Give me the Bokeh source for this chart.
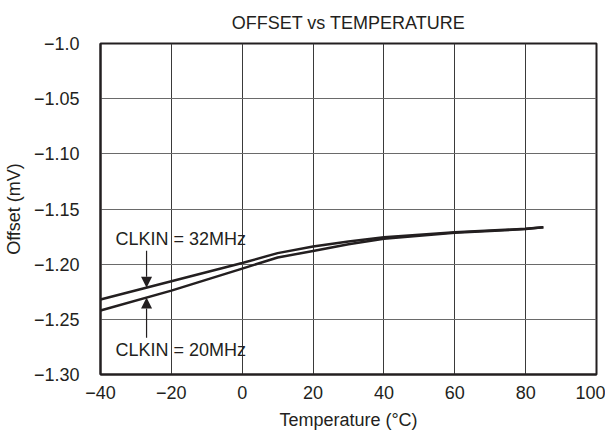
import numpy as np
from bokeh.plotting import figure
from bokeh.models import FixedTicker, Arrow, NormalHead, Label
from bokeh.embed import file_html
from bokeh.resources import INLINE

# data
temps = [-40, -20, 0, 10, 20, 30, 40, 60, 80, 85]
offset_32mhz = [-1.232, -1.2155, -1.199, -1.190, -1.184, -1.1795, -1.1755, -1.171, -1.168, -1.1665]
offset_20mhz = [-1.242, -1.224, -1.204, -1.194, -1.188, -1.182, -1.177, -1.1715, -1.1682, -1.1665]

x_ticks = [-40, -20, 0, 20, 40, 60, 80, 100]
y_ticks = [-1.30, -1.25, -1.20, -1.15, -1.10, -1.05, -1.0]
y_tick_labels = {-1.30: "\u22121.30", -1.25: "\u22121.25", -1.20: "\u22121.20", -1.15: "\u22121.15",
                 -1.10: "\u22121.10", -1.05: "\u22121.05", -1.0: "\u22121.0"}
x_tick_labels = {-40: "\u221240", -20: "\u221220", 0: "0", 20: "20", 40: "40", 60: "60", 80: "80", 100: "100"}

label_32 = "CLKIN = 32MHz"
label_20 = "CLKIN = 20MHz"
arrow_x = -27.0
arrow_32_start = -1.1878
arrow_20_start = -1.2667
label_x = -35.8
label_32_y = -1.1772
label_20_y = -1.2777

FONT = "Liberation Sans"
TXT = "#231f20"
FS = "18px"

p = figure(width=605, height=432, x_range=(-40, 100), y_range=(-1.30, -1.0),
           output_backend="svg", toolbar_location=None,
           title="OFFSET vs TEMPERATURE",
           x_axis_label="Temperature (\u00b0C)", y_axis_label="Offset (mV)",
           min_border_left=99, min_border_right=9, min_border_top=43, min_border_bottom=53)

p.title.align = "center"
p.title.vertical_align = "top"
p.title.text_font = FONT
p.title.text_font_size = FS
p.title.text_font_style = "normal"
p.title.text_color = TXT
p.title.offset = 0
p.title.standoff = 18

p.xaxis.ticker = FixedTicker(ticks=x_ticks)
p.yaxis.ticker = FixedTicker(ticks=y_ticks)
p.xaxis.major_label_overrides = x_tick_labels
p.yaxis.major_label_overrides = y_tick_labels

for ax in (p.xaxis[0], p.yaxis[0]):
    ax.major_label_text_font = FONT
    ax.major_label_text_font_size = FS
    ax.major_label_text_color = TXT
    ax.axis_label_text_font = FONT
    ax.axis_label_text_font_size = FS
    ax.axis_label_text_font_style = "normal"
    ax.axis_label_text_color = TXT
    ax.major_tick_line_color = None
    ax.minor_tick_line_color = None
    ax.axis_line_color = "#231f20"
    ax.axis_line_width = 2

p.xaxis.major_label_standoff = 5
p.yaxis.major_label_standoff = 15
p.xaxis.axis_label_standoff = 8
p.yaxis.axis_label_standoff = 7

p.xgrid.grid_line_color = "#3a3a3a"
p.ygrid.grid_line_color = "#6a6a6a"
p.xgrid.grid_line_width = 1
p.ygrid.grid_line_width = 1

p.outline_line_color = "#231f20"
p.outline_line_width = 2

p.line(temps, offset_32mhz, line_color="#231f20", line_width=2.5)
p.line(temps, offset_20mhz, line_color="#231f20", line_width=2.5)

tip_32 = float(np.interp(arrow_x, temps, offset_32mhz))
tip_20 = float(np.interp(arrow_x, temps, offset_20mhz))

for start, tip in ((arrow_32_start, tip_32), (arrow_20_start, tip_20)):
    p.add_layout(Arrow(end=NormalHead(size=11, fill_color="#231f20", line_color="#231f20", line_width=0),
                       x_start=arrow_x, y_start=start, x_end=arrow_x, y_end=tip,
                       line_color="#231f20", line_width=1.2))

for txt, y in ((label_32, label_32_y), (label_20, label_20_y)):
    p.add_layout(Label(x=label_x, y=y, text=txt, text_font=FONT, text_font_size=FS,
                       text_color=TXT, text_baseline="middle", text_align="left"))

open("out.html", "w").write(file_html(p, INLINE))
